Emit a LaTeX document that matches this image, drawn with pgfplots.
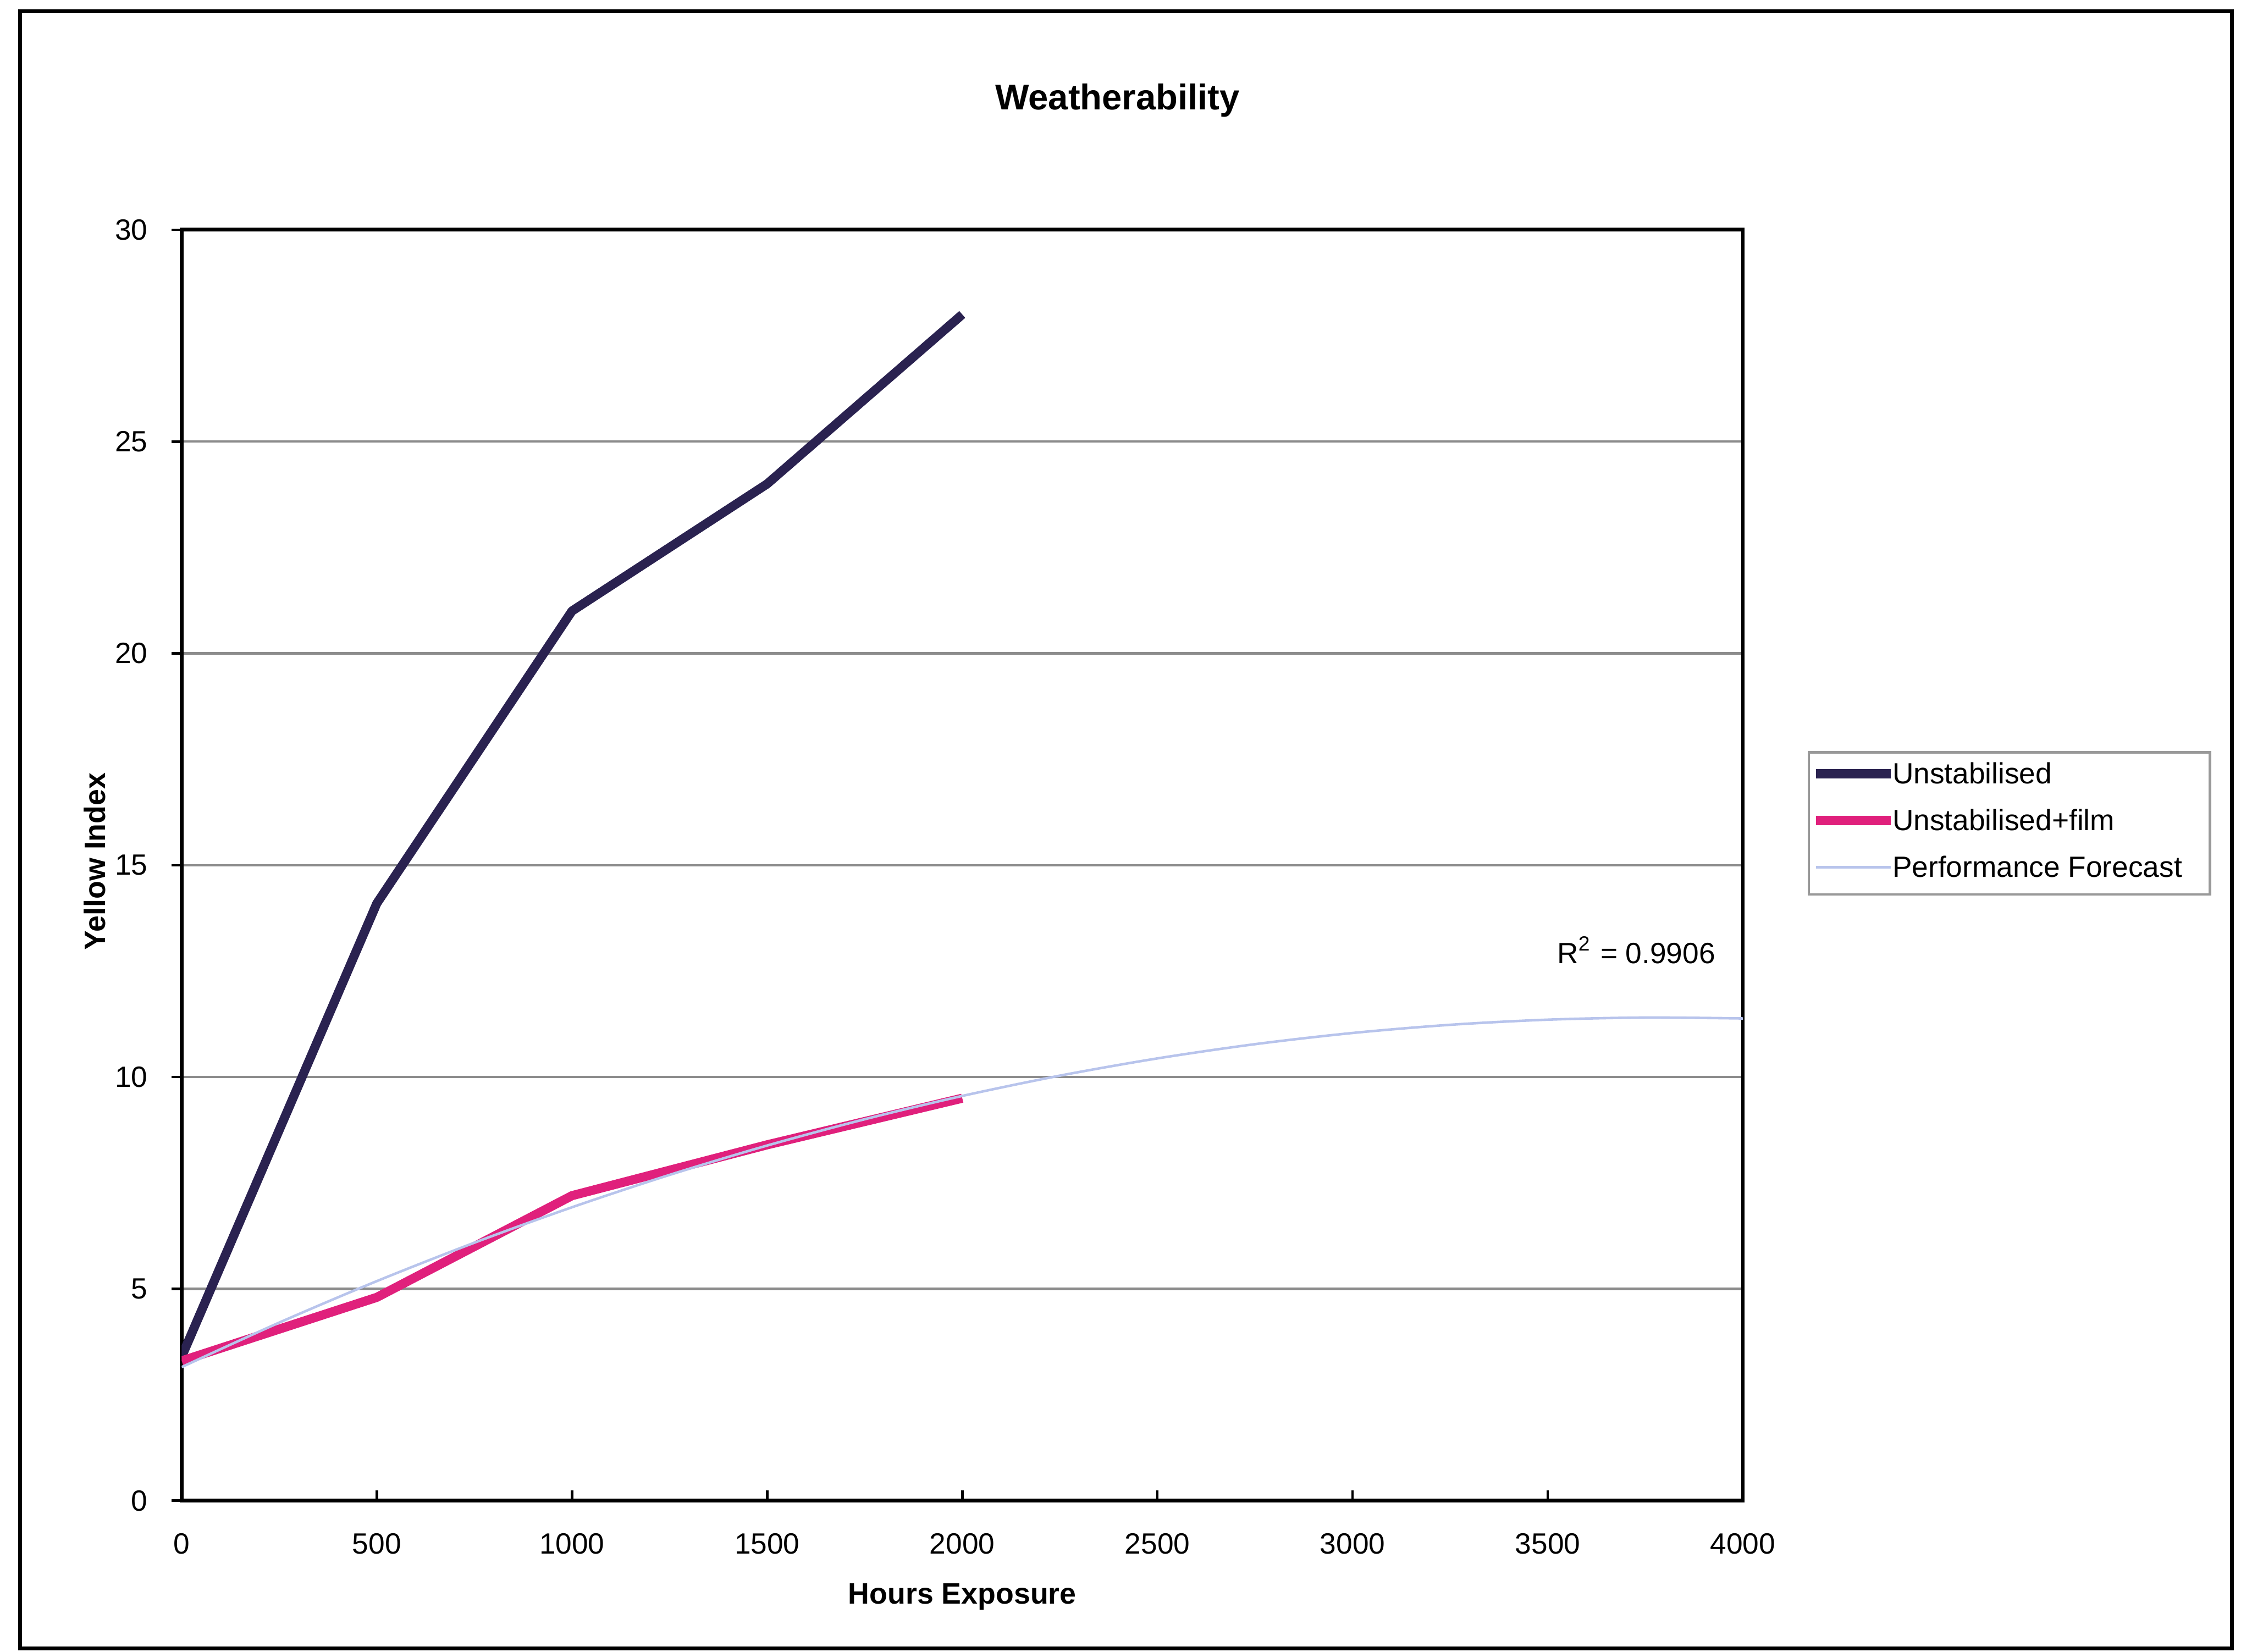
\documentclass[border=0pt]{standalone}
\usepackage{pgfplots}
\pgfplotsset{compat=1.18}
\usepackage{fontspec}
\setmainfont{Liberation Sans}

\definecolor{unstab}{HTML}{2A2250}
\definecolor{film}{HTML}{E0207C}
\definecolor{forecast}{HTML}{B8C4EC}
\definecolor{gridgray}{HTML}{8C8C8C}
\definecolor{legendframe}{HTML}{999999}

\newcommand{\smallfont}{\fontsize{5.8}{7}\selectfont}
\newcommand{\labelfont}{\bfseries\fontsize{5.85}{7}\selectfont}

\begin{document}
\begin{tikzpicture}
\useasboundingbox (0,0) rectangle (15.68,11.50);
% chart area frame
\draw[line width=0.75pt, black] (0.14,0.02) rectangle (15.54,11.42);
% chart title
\node[font=\bfseries\fontsize{7.1}{8.5}\selectfont] at (7.78,10.80) {Weatherability};

\begin{axis}[
  at={(1.265cm,1.05cm)}, anchor=south west,
  width=10.87cm, height=8.85cm, scale only axis,
  xmin=0, xmax=4000, ymin=0, ymax=30,
  xtick={0,500,...,4000}, ytick={0,5,...,30},
  xtick pos=bottom, ytick pos=left,
  tick align=outside, major tick length=0.07cm,
  tick style={black, line width=0.5pt},
  xtick style={yshift=0.07cm},
  ymajorgrids, grid style={gridgray, line width=0.45pt},
  axis line style={black, line width=0.75pt},
  ticklabel style={font=\smallfont},
  /pgf/number format/assume math mode=true,
  /pgf/number format/set thousands separator={},
  xticklabel style={anchor=base, yshift=-0.30cm},
  yticklabel style={anchor=east, inner sep=0pt, xshift=-0.16cm},
  xlabel={Hours Exposure}, ylabel={Yellow Index},
  label style={font=\labelfont},
  x label style={at={(axis description cs:0.5,-0.0757)}, anchor=center},
  y label style={at={(axis description cs:-0.0557,0.503)}, anchor=center, rotate=0},
  legend cell align=left,
  legend image code/.code={\draw[#1] (0cm,0.07cm) -- (0.52cm,0.07cm);},
  legend style={at={(axis description cs:1.0414,0.5898)}, anchor=north west,
    draw=legendframe, line width=0.5pt, fill=white,
    inner xsep=0.02cm, inner ysep=0.07cm,
    row sep=0.125cm, column sep=-0.02cm, font=\smallfont,
    nodes={inner sep=0pt, text height=0.15cm, text depth=0.05cm, anchor=base west}},
]
  % yellow index of unstabilised polycarbonate
  \addplot[unstab, line width=1.8pt, line join=round] coordinates {
    (0,3.4) (500,14.1) (1000,21.0) (1500,24.0) (2000,28.0)
  };
  \addlegendentry{\makebox[2.19cm][l]{Unstabilised}}

  % yellow index of unstabilised polycarbonate with protective film
  \addplot[film, line width=1.8pt, line join=round] coordinates {
    (0,3.3) (500,4.8) (1000,7.2) (1500,8.4) (2000,9.5)
  };
  \addlegendentry{\makebox[2.19cm][l]{Unstabilised+film}}

  % second-order trend of the film series, extended to 4000 h
  \addplot[forecast, line width=0.5pt, smooth] coordinates {
    (0,3.154) (250,4.204) (500,5.183) (750,6.090) (1000,6.926)
    (1250,7.690) (1500,8.383) (1750,9.004) (2000,9.554)
    (2250,10.033) (2500,10.440) (2750,10.776) (3000,11.040)
    (3250,11.233) (3500,11.354) (3750,11.404) (4000,11.383)
  };
  \addlegendentry{\makebox[2.19cm][l]{Performance Forecast}}

  \node[font=\smallfont, anchor=center] at (axis cs:3727,13.0) {R\textsuperscript{2} = 0.9906};
\end{axis}
\end{tikzpicture}
\end{document}
